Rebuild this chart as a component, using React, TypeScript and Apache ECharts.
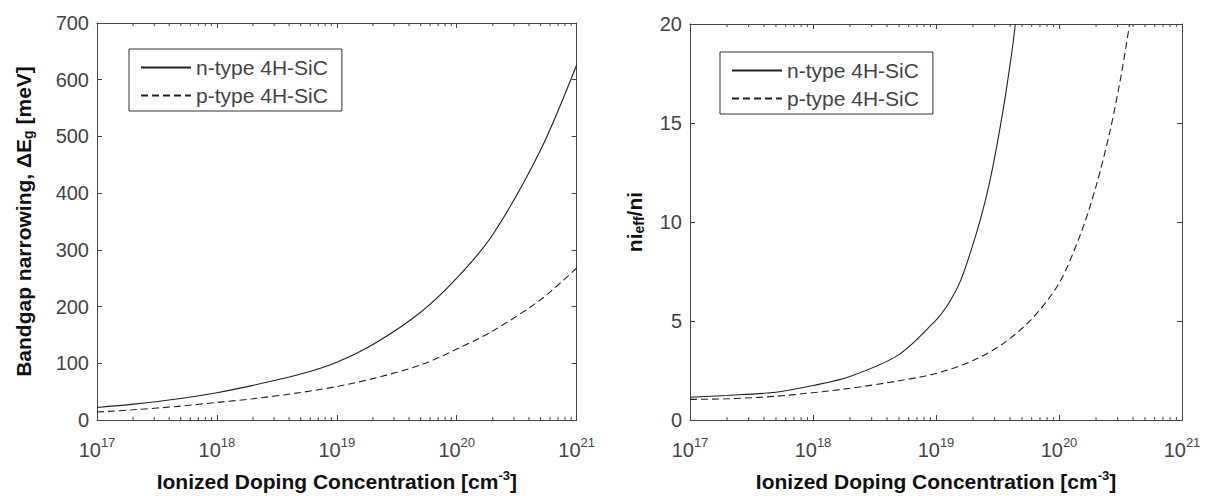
import React, { useEffect, useRef } from "react";
import * as echarts from "echarts";

// ---- Data ----
// Left panel: bandgap narrowing [meV] vs ionized doping concentration [cm^-3]
const bgnConc = [1e17, 2e17, 5e17, 1e18, 2e18, 5e18, 1e19, 2e19, 5e19, 1e20, 2e20, 5e20, 1e21];
const bgnN = [22, 28, 38, 48, 61, 81, 102, 133, 190, 250, 327, 476, 626];
const bgnP = [14, 18, 24.5, 31, 37.5, 48.5, 59, 73, 97, 125, 157, 212, 268];

// Right panel: ni_eff / ni
const niConcN = [1e17, 2e17, 5e17, 1e18, 2e18, 5e18, 1e19, 1.3e19, 1.6e19, 2.1e19, 2.5e19, 2.9e19, 3.5e19, 4.1e19, 4.42e19];
const niN = [1.15, 1.24, 1.4, 1.74, 2.2, 3.3, 5.05, 6.0, 7.1, 9.3, 11.0, 12.8, 15.6, 18.4, 20];
const niConcP = [1e17, 2e17, 5e17, 1e18, 2e18, 5e18, 1e19, 2e19, 3.5e19, 6e19, 1e20, 1.5e20, 2e20, 2.6e20, 3.2e20, 3.75e20];
const niP = [1.04, 1.07, 1.2, 1.38, 1.6, 1.98, 2.35, 3.0, 3.85, 5.1, 6.9, 9.4, 11.8, 14.6, 17.4, 20];

// Axis ticks
const xMin = 1e17;
const xMax = 1e21;
const minorDecades = [1e17, 1e18, 1e19, 1e20];
const minorMultipliers = [2, 3, 4, 5, 6, 7, 8, 9];

const seriesNames = ["n-type 4H-SiC", "p-type 4H-SiC"];
const xTitle = "{t|Ionized Doping Concentration [cm}{sup|-3}{t|]}";

const FONT = "Liberation Sans, Arial, Helvetica, sans-serif";
const AXIS_COLOR = "#444";
const LABEL_COLOR = "#444";
const TITLE_COLOR = "#111";
const LINE_COLOR = "#222";
const TICK_FS = 20;
const TITLE_FS = 21;

function zip(xs: number[], ys: number[]) {
  return xs.map((x, i) => [x, ys[i]]);
}

function buildOption(cfg: {
  gridLeft: number;
  gridTop: number;
  gridWidth: number;
  gridHeight: number;
  yMax: number;
  yInterval: number;
  yName: string;
  yNameGap: number;
  legendLeft: number;
  legendTop: number;
  nData: number[][];
  pData: number[][];
}) {
  const minorData: number[][] = [];
  minorDecades.forEach((d) => minorMultipliers.forEach((m) => minorData.push([d * m, 0])));

  const axisLine = { show: true, onZero: false, lineStyle: { color: AXIS_COLOR, width: 1 } };
  const axisTick = { show: true, inside: true, length: 5, lineStyle: { color: AXIS_COLOR } };

  const xAxisBase = {
    type: "log",
    logBase: 10,
    min: xMin,
    max: xMax,
    splitNumber: 4,
    splitLine: { show: false },
    axisLine,
    axisTick,
    minorTick: { show: false },
  };
  const yAxisBase = {
    type: "value",
    min: 0,
    max: cfg.yMax,
    interval: cfg.yInterval,
    splitLine: { show: false },
    axisLine,
    axisTick,
  };

  const yRich = {
    t: { fontFamily: FONT, fontSize: TITLE_FS, fontWeight: "bold", color: TITLE_COLOR },
    s: { fontFamily: FONT, fontSize: 14, fontWeight: "bold", color: TITLE_COLOR, padding: [9, 0, 0, 0] },
  };

  const lineSeries = (name: string, data: number[][], type: any) => ({
    name,
    type: "line",
    data,
    smooth: 0.3,
    showSymbol: false,
    symbol: "none",
    clip: true,
    lineStyle: { color: LINE_COLOR, width: 1.1, type },
    itemStyle: { color: LINE_COLOR },
  });

  return {
    animation: false,
    backgroundColor: "#fff",
    grid: {
      left: cfg.gridLeft,
      top: cfg.gridTop,
      width: cfg.gridWidth,
      height: cfg.gridHeight,
      containLabel: false,
    },
    legend: {
      data: seriesNames,
      orient: "vertical",
      left: cfg.legendLeft,
      top: cfg.legendTop,
      backgroundColor: "#fff",
      borderColor: "#333",
      borderWidth: 1,
      padding: [6, 14, 3, 11],
      itemGap: 3,
      itemWidth: 50,
      itemHeight: 14,
      selectedMode: false,
      itemStyle: { opacity: 0, color: "rgba(0,0,0,0)", borderWidth: 0 },
      textStyle: { fontFamily: FONT, fontSize: 21, lineHeight: 25, color: LABEL_COLOR },
    },
    xAxis: [
      {
        ...xAxisBase,
        position: "bottom",
        name: xTitle,
        nameLocation: "middle",
        nameGap: 49,
        nameTextStyle: {
          rich: {
            t: { fontFamily: FONT, fontSize: TITLE_FS, fontWeight: "bold", color: TITLE_COLOR },
            sup: { fontFamily: FONT, fontSize: 13, fontWeight: "bold", color: TITLE_COLOR, padding: [0, 0, 12, 0] },
          },
        },
        axisLabel: {
          margin: 16,
          formatter: (v: number) => `{b|10}{sup|${Math.round(Math.log10(v))}}`,
          rich: {
            b: { fontFamily: FONT, fontSize: TICK_FS, color: LABEL_COLOR },
            sup: { fontFamily: FONT, fontSize: 13, color: LABEL_COLOR, padding: [0, 0, 14, 0] },
          },
        },
      },
      {
        ...xAxisBase,
        position: "top",
        axisLabel: { show: false },
      },
    ],
    yAxis: [
      {
        ...yAxisBase,
        position: "left",
        name: cfg.yName,
        nameLocation: "middle",
        nameGap: cfg.yNameGap,
        nameRotate: 90,
        nameTextStyle: { rich: yRich },
        axisLabel: { margin: 8, fontFamily: FONT, fontSize: TICK_FS, color: LABEL_COLOR },
      },
      {
        ...yAxisBase,
        position: "right",
        axisLabel: { show: false },
      },
    ],
    series: [
      lineSeries(seriesNames[0], cfg.nData, "solid"),
      lineSeries(seriesNames[1], cfg.pData, [7, 4]),
      {
        name: "minorTicks",
        type: "custom",
        silent: true,
        data: minorData,
        renderItem: (params: any, api: any) => {
          const v = api.value(0);
          const b = api.coord([v, 0]);
          const t = api.coord([v, cfg.yMax]);
          return {
            type: "group",
            children: [
              { type: "line", shape: { x1: b[0], y1: b[1], x2: b[0], y2: b[1] - 3 }, style: { stroke: AXIS_COLOR, lineWidth: 1 } },
              { type: "line", shape: { x1: t[0], y1: t[1], x2: t[0], y2: t[1] + 3 }, style: { stroke: AXIS_COLOR, lineWidth: 1 } },
            ],
          };
        },
      },
    ],
  };
}

function Panel(props: { left: number; width: number; option: any }) {
  const ref = useRef<HTMLDivElement>(null);
  useEffect(() => {
    if (!ref.current) return;
    const chart = echarts.init(ref.current, undefined, { renderer: "svg" });
    chart.setOption(props.option);
    return () => chart.dispose();
  }, []);
  return (
    <div
      ref={ref}
      style={{ position: "absolute", left: props.left, top: 0, width: props.width, height: 497, overflow: "hidden" }}
    />
  );
}

export default function App() {
  useEffect(() => {
    document.body.style.margin = "0";
    document.body.style.background = "#fff";
  }, []);

  const leftOption = buildOption({
    gridLeft: 97,
    gridTop: 23,
    gridWidth: 492,
    gridHeight: 400,
    yMax: 700,
    yInterval: 100,
    yName: "{t|Bandgap narrowing, ΔE}{s|g}{t| [meV]}",
    yNameGap: 62,
    legendLeft: 129,
    legendTop: 49,
    nData: zip(bgnConc, bgnN),
    pData: zip(bgnConc, bgnP),
  });

  const rightOption = buildOption({
    gridLeft: 90,
    gridTop: 24,
    gridWidth: 492,
    gridHeight: 399,
    yMax: 20,
    yInterval: 5,
    yName: "{t|ni}{s|eff}{t|/ni}",
    yNameGap: 44,
    legendLeft: 120,
    legendTop: 52,
    nData: zip(niConcN, niN),
    pData: zip(niConcP, niP),
  });

  return (
    <div style={{ position: "fixed", left: 0, top: 0, width: 1211, height: 497, background: "#fff" }}>
      <Panel left={0} width={598} option={leftOption} />
      <Panel left={600} width={611} option={rightOption} />
    </div>
  );
}
